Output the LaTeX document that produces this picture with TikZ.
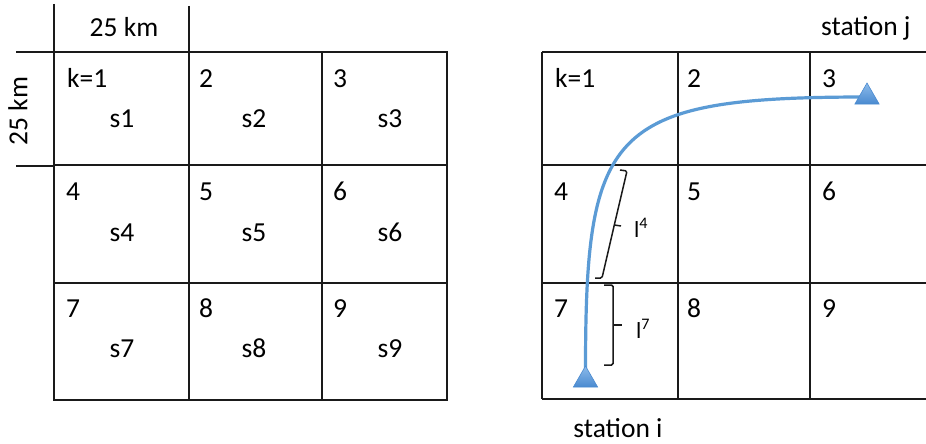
\documentclass[tikz,border=0pt]{standalone}
\usepackage{fontspec}
\setmainfont{Carlito}
\usetikzlibrary{shapes.geometric}
\definecolor{routeblue}{HTML}{5B9BD5}
\definecolor{tritop}{HTML}{8CBBEA}
\definecolor{tribot}{HTML}{4A8AD0}
\definecolor{gridcol}{HTML}{1A1A1A}
\begin{document}
\begin{tikzpicture}[x=1pt,y=-1pt,
  gridline/.style={line width=2pt, draw=gridcol},
  numlbl/.style={anchor=base west, inner sep=0pt, font=\fontsize{27.5}{32}\selectfont},
  slbl/.style={anchor=base, inner sep=0pt, font=\fontsize{27.5}{32}\selectfont},
  txt/.style={inner sep=0pt, font=\fontsize{27.5}{32}\selectfont},
  llbl/.style={anchor=center, inner sep=0pt, font=\fontsize{23}{27}\selectfont},
  routeline/.style={line width=3.2pt, draw=routeblue},
  tri/.style={regular polygon, regular polygon sides=3, minimum size=28pt, inner sep=0pt,
    top color=tritop, bottom color=tribot, draw=tribot, line width=0.6pt},
  bracestyle/.style={line width=1.5pt, draw=gridcol, rounded corners=1.5pt}]
\useasboundingbox (0,0) rectangle (926,444);
\fill[white] (0,0) rectangle (926,444);

% ---- left grid ----
\draw[gridline] (54,52) rectangle (447,400);
\draw[gridline] (189,52) -- (189,400);
\draw[gridline] (322,52) -- (322,400);
\draw[gridline] (54,165) -- (447,165);
\draw[gridline] (54,283) -- (447,283);
\draw[gridline] (54,4) -- (54,52);
\draw[gridline] (189,6) -- (189,52);
\draw[gridline] (16,52) -- (54,52);
\draw[gridline] (16,166) -- (54,166);

\node[txt, anchor=base] (kmtop) at (124,37) {25 km};
\node[txt, rotate=90, anchor=center] (kmleft) at (18,111) {25 km};

\node[numlbl] (Ln1) at (67,88) {k=1};
\node[numlbl] (Ln2) at (199,88) {2};
\node[numlbl] (Ln3) at (333,88) {3};
\node[numlbl] (Ln4) at (66,200) {4};
\node[numlbl] (Ln5) at (199,200) {5};
\node[numlbl] (Ln6) at (333,200) {6};
\node[numlbl] (Ln7) at (66,317) {7};
\node[numlbl] (Ln8) at (199,317) {8};
\node[numlbl] (Ln9) at (333,317) {9};

\node[slbl] (S1) at (122,127) {s1};
\node[slbl] (S2) at (254,127) {s2};
\node[slbl] (S3) at (390,127) {s3};
\node[slbl] (S4) at (122,241) {s4};
\node[slbl] (S5) at (254,241) {s5};
\node[slbl] (S6) at (390,241) {s6};
\node[slbl] (S7) at (122,357) {s7};
\node[slbl] (S8) at (254,357) {s8};
\node[slbl] (S9) at (390,357) {s9};

% ---- right grid ----
\draw[gridline] (542,52) -- (926,52);
\draw[gridline] (542,165) -- (926,165);
\draw[gridline] (542,283) -- (926,283);
\draw[gridline] (542,399) -- (926,399);
\draw[gridline] (542,52) -- (542,399);
\draw[gridline] (678,52) -- (678,399);
\draw[gridline] (810,52) -- (810,399);

\node[numlbl] (Rn1) at (555,88) {k=1};
\node[numlbl] (Rn2) at (687,88) {2};
\node[numlbl] (Rn3) at (822,88) {3};
\node[numlbl] (Rn4) at (554,200) {4};
\node[numlbl] (Rn5) at (687,200) {5};
\node[numlbl] (Rn6) at (822,200) {6};
\node[numlbl] (Rn7) at (554,317) {7};
\node[numlbl] (Rn8) at (687,317) {8};
\node[numlbl] (Rn9) at (822,317) {9};

\node[txt, anchor=base west] (stj) at (821,36) {station j};
\node[txt, anchor=base] (sti) at (618,437) {station i};

% ---- route ----
\coordinate (pi) at (585.5,380);
\coordinate (pj) at (867,97);
\draw[routeline] (pi) .. controls (585,130) and (605,97) .. (pj);
\node[tri] (si) at (pi) {};
\node[tri] (sj) at (pj) {};

% ---- braces ----
\coordinate (b4a) at (620,170);
\coordinate (b4b) at (627,171);
\coordinate (b4m) at (614.3,225);
\coordinate (b4t) at (621,226);
\coordinate (b4c) at (602,278);
\coordinate (b4d) at (595,278);
\draw[bracestyle] (b4a) -- (b4b) -- (b4m) -- (b4c) -- (b4d);
\draw[bracestyle] (b4m) -- (b4t);

\coordinate (b7a) at (604,285);
\coordinate (b7b) at (613,285);
\coordinate (b7m) at (613,325);
\coordinate (b7t) at (622,325);
\coordinate (b7c) at (613,365);
\coordinate (b7d) at (604,365);
\draw[bracestyle] (b7a) -- (b7b) -- (b7m) -- (b7c) -- (b7d);
\draw[bracestyle] (b7m) -- (b7t);

\node[llbl] (l4) at (641,228) {l\textsuperscript{4}};
\node[llbl] (l7) at (643,329) {l\textsuperscript{7}};
\end{tikzpicture}
\end{document}
